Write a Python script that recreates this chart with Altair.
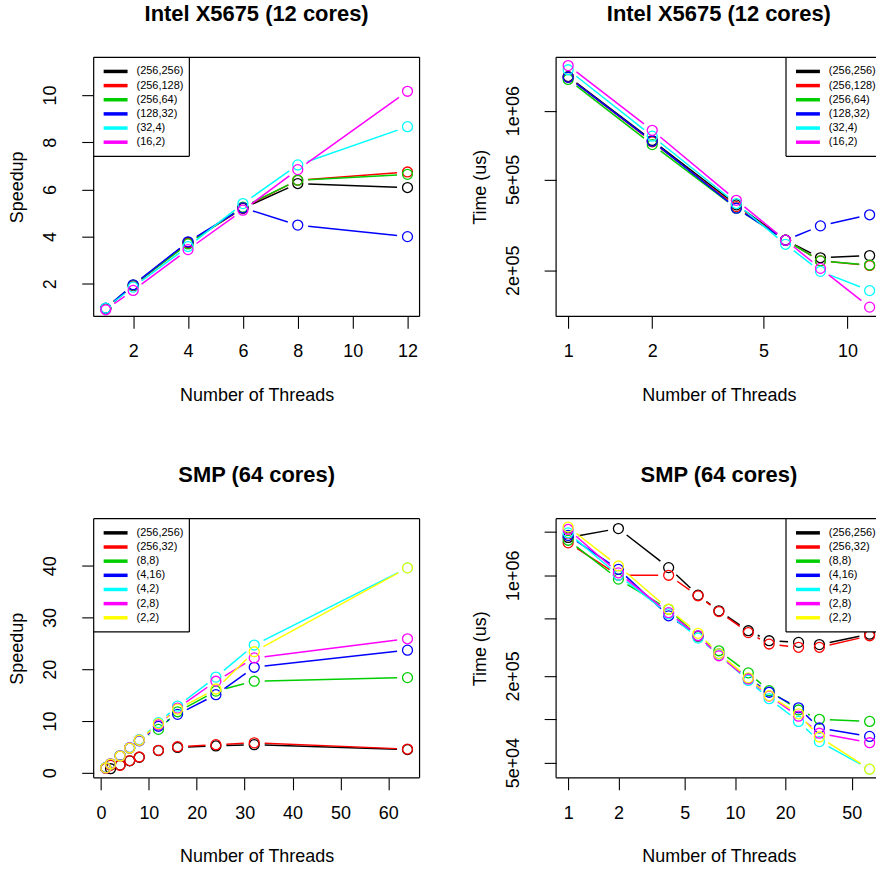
import math
import altair as alt
import pandas as pd

FONT = "Liberation Sans"

# ---------------- data ----------------
intel_threads = [1, 2, 4, 6, 8, 12]
intel_labels = ["(256,256)", "(256,128)", "(256,64)", "(128,32)", "(32,4)", "(16,2)"]
intel_colors = ["#000000", "#FF0000", "#00CD00", "#0000FF", "#00FFFF", "#FF00FF"]

intel_speedup = {
    "(256,256)": [0.95, 1.93, 3.76, 5.20, 6.25, 6.08],
    "(256,128)": [0.95, 1.93, 3.72, 5.22, 6.39, 6.74],
    "(256,64)":  [0.96, 1.95, 3.69, 5.25, 6.39, 6.64],
    "(128,32)":  [0.97, 1.96, 3.78, 5.22, 4.49, 4.00],
    "(32,4)":    [0.97, 1.86, 3.58, 5.40, 7.04, 8.66],
    "(16,2)":    [0.90, 1.72, 3.45, 5.12, 6.84, 10.16],
}
intel_time = {
    "(256,256)": [1.41e6, 7.40e5, 3.87e5, 2.71e5, 2.27e5, 2.32e5],
    "(256,128)": [1.40e6, 7.30e5, 3.80e5, 2.71e5, 2.20e5, 2.10e5],
    "(256,64)":  [1.37e6, 7.10e5, 3.74e5, 2.71e5, 2.20e5, 2.11e5],
    "(128,32)":  [1.40e6, 7.35e5, 3.74e5, 2.71e5, 3.13e5, 3.50e5],
    "(32,4)":    [1.51e6, 7.73e5, 3.92e5, 2.60e5, 1.98e5, 1.63e5],
    "(16,2)":    [1.575e6, 8.20e5, 4.05e5, 2.71e5, 2.04e5, 1.38e5],
}

smp_threads = [1, 2, 4, 6, 8, 12, 16, 24, 32, 64]
smp_labels = ["(256,256)", "(256,32)", "(8,8)", "(4,16)", "(4,2)", "(2,8)", "(2,2)"]
smp_colors = ["#000000", "#FF0000", "#00CD00", "#0000FF", "#00FFFF", "#FF00FF", "#FFFF00"]

smp_speedup = {
    "(256,256)": [0.93, 0.80, 1.50, 2.33, 3.00, 4.30, 4.90, 5.20, 5.45, 4.50],
    "(256,32)":  [0.87, 1.45, 1.47, 2.37, 3.07, 4.36, 5.05, 5.45, 5.80, 4.60],
    "(8,8)":     [1.00, 1.70, 3.30, 4.80, 6.30, 8.40, 11.8, 15.8, 17.7, 18.4],
    "(4,16)":    [1.00, 1.70, 3.30, 4.80, 6.20, 9.00, 11.3, 15.1, 20.4, 23.7],
    "(4,2)":     [1.00, 1.75, 3.35, 4.90, 6.40, 9.70, 12.9, 18.5, 24.7, 39.6],
    "(2,8)":     [0.95, 1.75, 3.30, 4.85, 6.30, 9.30, 12.5, 17.7, 22.2, 25.9],
    "(2,2)":     [0.97, 1.70, 3.25, 4.80, 6.30, 9.50, 12.3, 16.2, 23.4, 39.6],
}
smp_time = {
    "(256,256)": [1.83e6, 2.11e6, 1.13e6, 7.27e5, 5.66e5, 4.12e5, 3.51e5, 3.42e5, 3.30e5, 3.90e5],
    "(256,32)":  [1.68e6, 1.00e6, 1.00e6, 7.20e5, 5.60e5, 4.00e5, 3.33e5, 3.16e5, 3.16e5, 3.80e5],
    "(8,8)":     [1.75e6, 9.40e5, 5.80e5, 3.75e5, 2.99e5, 2.10e5, 1.58e5, 1.16e5, 1.00e5, 9.66e4],
    "(4,16)":    [1.89e6, 1.10e6, 5.23e5, 3.80e5, 2.85e5, 1.92e5, 1.54e5, 1.20e5, 8.70e4, 7.60e4],
    "(4,2)":     [1.97e6, 1.00e6, 5.40e5, 3.66e5, 2.80e5, 1.86e5, 1.39e5, 9.66e4, 7.00e4, 4.50e4],
    "(2,8)":     [2.08e6, 1.04e6, 5.50e5, 3.80e5, 2.76e5, 1.90e5, 1.45e5, 1.05e5, 8.00e4, 6.87e4],
    "(2,2)":     [2.16e6, 1.16e6, 5.82e5, 3.95e5, 2.85e5, 1.94e5, 1.46e5, 1.09e5, 7.53e4, 4.50e4],
}

intel_title = "Intel X5675 (12 cores)"
smp_title = "SMP (64 cores)"
x_title = "Number of Threads"

# ---------------- layout ----------------
H = 260
W_LEFT = 327
W_RIGHT = 321          # visible part of the right panels (cut at window edge)
FULL_W = 326.7         # full plot width of the right panels (beyond the window)
ROW_H = 14.2
LEG_W = 96
GAP = 10.5             # R type="b": line gap around each point (px)


def x_axis(values, title_x, fmt=None):
    kw = dict(values=values, title=x_title, domain=False, grid=False,
              ticks=True, tickSize=12, tickColor="black", tickWidth=1.1,
              labelFont=FONT, labelFontSize=18, labelColor="black",
              labelBaseline="alphabetic", labelPadding=28.7,
              labelFlush=False, labelOverlap=False,
              titleFont=FONT, titleFontSize=18, titleFontWeight="normal",
              titleColor="black", titleX=title_x, titleY=84,
              titleBaseline="alphabetic", titleAlign="center")
    if fmt:
        kw["format"] = fmt
    return alt.Axis(**kw)


def y_axis(values, title, label_expr=None):
    kw = dict(values=values, title=title, domain=False, grid=False,
              ticks=True, tickSize=12, tickColor="black", tickWidth=1.1,
              labelFont=FONT, labelFontSize=18, labelColor="black",
              labelAngle=270, labelAlign="center", labelBaseline="alphabetic",
              labelPadding=26, labelOverlap=False, labelFlush=False,
              titleFont=FONT, titleFontSize=18, titleFontWeight="normal",
              titleColor="black", titleAngle=270, titleX=-71, titleY=H / 2,
              titleBaseline="alphabetic", titleAlign="center")
    if label_expr:
        kw["labelExpr"] = label_expr
    return alt.Axis(**kw)


def one():
    return pd.DataFrame({"k": [0]})


def make_map(domain, size, log, flip):
    f = math.log10 if log else (lambda v: v)
    g = (lambda v: 10 ** v) if log else (lambda v: v)
    lo, hi = f(domain[0]), f(domain[1])

    def fwd(v):
        p = (f(v) - lo) / (hi - lo) * size
        return size - p if flip else p

    def inv(p):
        if flip:
            p = size - p
        return g(lo + p / size * (hi - lo))
    return fwd, inv


def gapped_segments(xs, ys, xmap, ymap):
    """Segments between consecutive points, shortened like R's type='b'."""
    fx, ix = xmap
    fy, iy = ymap
    rows = []
    for i in range(len(xs) - 1):
        x0, y0 = fx(xs[i]), fy(ys[i])
        x1, y1 = fx(xs[i + 1]), fy(ys[i + 1])
        d = math.hypot(x1 - x0, y1 - y0)
        if d <= 2 * GAP:
            continue
        t = GAP / d
        rows.append({
            "xa": ix(x0 + t * (x1 - x0)), "ya": iy(y0 + t * (y1 - y0)),
            "xb": ix(x1 - t * (x1 - x0)), "yb": iy(y1 - t * (y1 - y0)),
        })
    return pd.DataFrame(rows, columns=["xa", "ya", "xb", "yb"])


def panel(title, threads, labels, colors, values, xdom, xlog, xaxis,
          ydom, ylog, yaxis, width, right_side, anchor=False):
    xscale = alt.Scale(type="log" if xlog else "linear", domain=xdom, nice=False,
                       **({} if xlog else {"zero": False}))
    yscale = alt.Scale(type="log" if ylog else "linear", domain=ydom, nice=False,
                       **({} if ylog else {"zero": False}))
    xmap = make_map(xdom, width, xlog, False)
    ymap = make_map(ydom, H, ylog, True)

    layers = []
    for lab, col in zip(labels, colors):
        seg = gapped_segments(threads, values[lab], xmap, ymap)
        if len(seg):
            layers.append(alt.Chart(seg).mark_rule(color=col, strokeWidth=1.5).encode(
                x=alt.X("xa:Q", scale=xscale, axis=xaxis),
                y=alt.Y("ya:Q", scale=yscale, axis=yaxis),
                x2="xb:Q", y2="yb:Q"))
        df = pd.DataFrame({"threads": threads, "value": values[lab]})
        layers.append(alt.Chart(df).mark_point(
            shape="circle", filled=False, color=col, size=100,
            strokeWidth=1.3, opacity=1).encode(
            x=alt.X("threads:Q", scale=xscale, axis=xaxis),
            y=alt.Y("value:Q", scale=yscale, axis=yaxis)))

    n = len(labels)
    box_h = ROW_H * (n + 1)
    if right_side:
        lx0 = FULL_W - LEG_W
        lx1 = width
    else:
        lx0 = 0
        lx1 = LEG_W
    # legend background + border
    layers.append(alt.Chart(one()).mark_rect(fill="white", strokeOpacity=0).encode(
        x=alt.value(lx0), x2=alt.value(lx1), y=alt.value(0), y2=alt.value(box_h)))
    layers.append(alt.Chart(one()).mark_rule(color="black", strokeWidth=1.2).encode(
        x=alt.value(lx0), x2=alt.value(lx1), y=alt.value(box_h)))
    edge = lx0 if right_side else lx1
    layers.append(alt.Chart(one()).mark_rule(color="black", strokeWidth=1.2).encode(
        x=alt.value(edge), y=alt.value(0), y2=alt.value(box_h)))
    for i, (lab, col) in enumerate(zip(labels, colors)):
        yy = ROW_H * (i + 1)
        layers.append(alt.Chart(one()).mark_rule(color=col, strokeWidth=3.5, strokeCap="butt").encode(
            x=alt.value(lx0 + 10), x2=alt.value(lx0 + 34), y=alt.value(yy)))
        layers.append(alt.Chart(one()).mark_text(
            text=lab, font=FONT, fontSize=11, color="black", align="left",
            baseline="middle", clip=right_side).encode(
            x=alt.value(lx0 + 43), y=alt.value(yy)))

    # plot frame (the right panels are cut at the window edge: no right side)
    layers.append(alt.Chart(one()).mark_rule(color="black", strokeWidth=1.2).encode(
        x=alt.value(0), x2=alt.value(width), y=alt.value(0)))
    layers.append(alt.Chart(one()).mark_rule(color="black", strokeWidth=1.2).encode(
        x=alt.value(0), x2=alt.value(width), y=alt.value(H)))
    layers.append(alt.Chart(one()).mark_rule(color="black", strokeWidth=1.2).encode(
        x=alt.value(0), y=alt.value(0), y2=alt.value(H)))
    if not right_side:
        layers.append(alt.Chart(one()).mark_rule(color="black", strokeWidth=1.2).encode(
            x=alt.value(width), y=alt.value(0), y2=alt.value(H)))
    if anchor:
        layers.append(alt.Chart(one()).mark_rule(color="white", opacity=0, strokeWidth=0.5).encode(
            x=alt.value(-93), x2=alt.value(-92), y=alt.value(H / 2)))

    dx = (FULL_W - width) / 2 if right_side else 0
    return alt.layer(*layers).properties(
        width=width, height=H,
        title=alt.TitleParams(title, font=FONT, fontSize=22, fontWeight="bold",
                              color="black", anchor="middle", frame="group",
                              baseline="alphabetic", offset=14, dx=dx),
    )


def log_visible(lo_log, hi_log):
    end = lo_log + (hi_log - lo_log) * W_RIGHT / FULL_W
    return [10 ** lo_log, 10 ** end]


p1 = panel(intel_title, intel_threads, intel_labels, intel_colors, intel_speedup,
           [0.56, 12.44], False, x_axis([2, 4, 6, 8, 10, 12], W_LEFT / 2),
           [0.62, 11.6], False, y_axis([2, 4, 6, 8, 10], "Speedup"),
           W_LEFT, False, anchor=True)

lx = math.log10(12)
p2 = panel(intel_title, intel_threads, intel_labels, intel_colors, intel_time,
           log_visible(-0.04317, lx + 0.04317), True,
           x_axis([1, 2, 5, 10], FULL_W / 2, fmt="d"),
           [1.257e5, 1.712e6], True,
           y_axis([2e5, 5e5, 1e6], "Time (us)",
                  "datum.value == 200000 ? '2e+05' : datum.value == 500000 ? '5e+05' : datum.value == 1000000 ? '1e+06' : ''"),
           W_RIGHT, True)

p3 = panel(smp_title, smp_threads, smp_labels, smp_colors, smp_speedup,
           [-1.52, 66.52], False, x_axis([0, 10, 20, 30, 40, 50, 60], W_LEFT / 2),
           [-0.96, 49.1], False, y_axis([0, 10, 20, 30, 40], "Speedup"),
           W_LEFT, False)

l64 = math.log10(64)
p4 = panel(smp_title, smp_threads, smp_labels, smp_colors, smp_time,
           log_visible(-0.07225, l64 + 0.07225), True,
           x_axis([1, 2, 5, 10, 20, 50], FULL_W / 2, fmt="d"),
           [3.92e4, 2.47e6], True,
           y_axis([5e4, 1e5, 2e5, 5e5, 1e6, 2e6], "Time (us)",
                  "datum.value == 50000 ? '5e+04' : datum.value == 200000 ? '2e+05' : datum.value == 1000000 ? '1e+06' : ''"),
           W_RIGHT, True)

chart = alt.concat(p1, p2, p3, p4, columns=2,
                   spacing=alt.RowColnumber(row=203, column=137),
                   bounds="flush").properties(
    padding=0, background="white",
).configure_view(stroke="transparent")

chart.save("out.html", embed_options={"renderer": "svg", "actions": False})
